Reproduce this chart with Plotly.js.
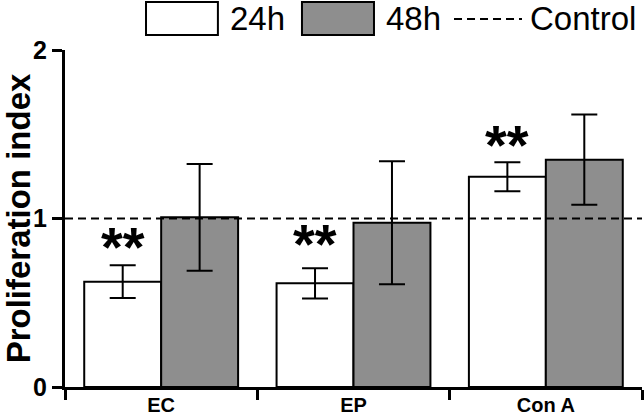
<!DOCTYPE html>
<html>
<head>
<meta charset="utf-8">
<script src="https://cdn.plot.ly/plotly-3.0.1.min.js"></script>
<style>html,body{margin:0;padding:0;background:#fff;}#chart{width:644px;height:418px;}</style>
</head>
<body>
<div id="chart"></div>
<script>
// ---- data ----
var categories = ["EC", "EP", "Con A"];
var seriesNames = ["24h", "48h"];
var values24h = [0.625, 0.615, 1.248];
var errors24h = [0.097, 0.090, 0.086];
var values48h = [1.007, 0.975, 1.349];
var errors48h = [0.317, 0.365, 0.268];
var controlName = "Control";
var controlValue = [1];
var sigLabels = ["**", "**", "**"];
var sigY = [0.884, 0.902, 1.485];
var yTickVals = [0, 1, 2];
var yTickText = ["0", "1", "2"];

var FONT = "Liberation Sans, Arial, Helvetica, sans-serif";
var GRAY = "#8e8e8e";

var traces = [
  {
    type: "bar", name: seriesNames[0], x: categories, y: values24h,
    marker: {color: "#ffffff", line: {color: "#000", width: 2}},
    error_y: {type: "data", array: errors24h, visible: true, color: "#000", thickness: 2, width: 13},
    showlegend: false
  },
  {
    type: "bar", name: seriesNames[1], x: categories, y: values48h,
    marker: {color: GRAY, line: {color: "#000", width: 2}},
    error_y: {type: "data", array: errors48h, visible: true, color: "#000", thickness: 2, width: 13},
    showlegend: false
  }
];

// stars sit over the 24h bar (left bar of each pair: offset of -0.2 category width = -38.5 px)
var annotations = categories.map(function (c, i) {
  return {
    x: c, y: sigY[i], xref: "x", yref: "y", text: sigLabels[i], showarrow: false,
    xanchor: "center", yanchor: "middle", xshift: -38.5, yshift: -8,
    font: {family: FONT, size: 56, color: "#000", weight: "bold"}
  };
});

// legend (drawn manually to match large swatches)
var legFont = {family: FONT, size: 33, color: "#000"};
annotations.push({xref: "paper", yref: "paper", x: 0.282, y: 1.092, xanchor: "left", yanchor: "middle",
  text: seriesNames[0], showarrow: false, font: legFont});
annotations.push({xref: "paper", yref: "paper", x: 0.552, y: 1.092, xanchor: "left", yanchor: "middle",
  text: seriesNames[1], showarrow: false, font: legFont});
annotations.push({xref: "paper", yref: "paper", x: 0.802, y: 1.092, xanchor: "left", yanchor: "middle",
  text: controlName, showarrow: false, font: legFont});

var shapes = [
  {type: "line", xref: "paper", yref: "y", x0: 0, x1: 1, y0: controlValue[0], y1: controlValue[0],
   line: {color: "#000", width: 2, dash: "8px,5px"}, layer: "above"},
  {type: "rect", xref: "paper", yref: "paper", x0: 0.1404, x1: 0.265, y0: 1.0445, y1: 1.1424,
   fillcolor: "#ffffff", line: {color: "#000", width: 2}},
  {type: "rect", xref: "paper", yref: "paper", x0: 0.4107, x1: 0.5355, y0: 1.0445, y1: 1.1424,
   fillcolor: GRAY, line: {color: "#000", width: 2}},
  {type: "line", xref: "paper", yref: "paper", x0: 0.6742, x1: 0.792, y0: 1.092, y1: 1.092,
   line: {color: "#000", width: 2, dash: "8px,5px"}}
];

var layout = {
  width: 644, height: 418,
  margin: {l: 65, r: 2, t: 50, b: 31, pad: 0},
  paper_bgcolor: "#fff", plot_bgcolor: "#fff",
  barmode: "group", bargap: 0.2, bargroupgap: 0,
  showlegend: false,
  font: {family: FONT, color: "#000"},
  xaxis: {
    type: "category", range: [-0.5, 2.5], tickson: "boundaries",
    ticks: "outside", ticklen: 10, tickwidth: 3, tickcolor: "#000",
    showline: true, linewidth: 3, linecolor: "#000", showgrid: false, zeroline: false,
    ticklabelstandoff: -2,
    tickfont: {family: FONT, size: 20, color: "#000", weight: "bold"}, fixedrange: true
  },
  yaxis: {
    range: [0, 2], tickvals: yTickVals, ticktext: yTickText,
    ticks: "outside", ticklen: 10, tickwidth: 3, tickcolor: "#000",
    showline: true, linewidth: 3, linecolor: "#000", showgrid: false, zeroline: false,
    tickfont: {family: FONT, size: 25, color: "#000", weight: "bold"},
    title: {text: "Proliferation index", standoff: 4, font: {family: FONT, size: 33, color: "#000", weight: "bold"}},
    fixedrange: true
  },
  shapes: shapes,
  annotations: annotations
};

Plotly.newPlot("chart", traces, layout, {displayModeBar: false, staticPlot: true});
</script>
</body>
</html>
